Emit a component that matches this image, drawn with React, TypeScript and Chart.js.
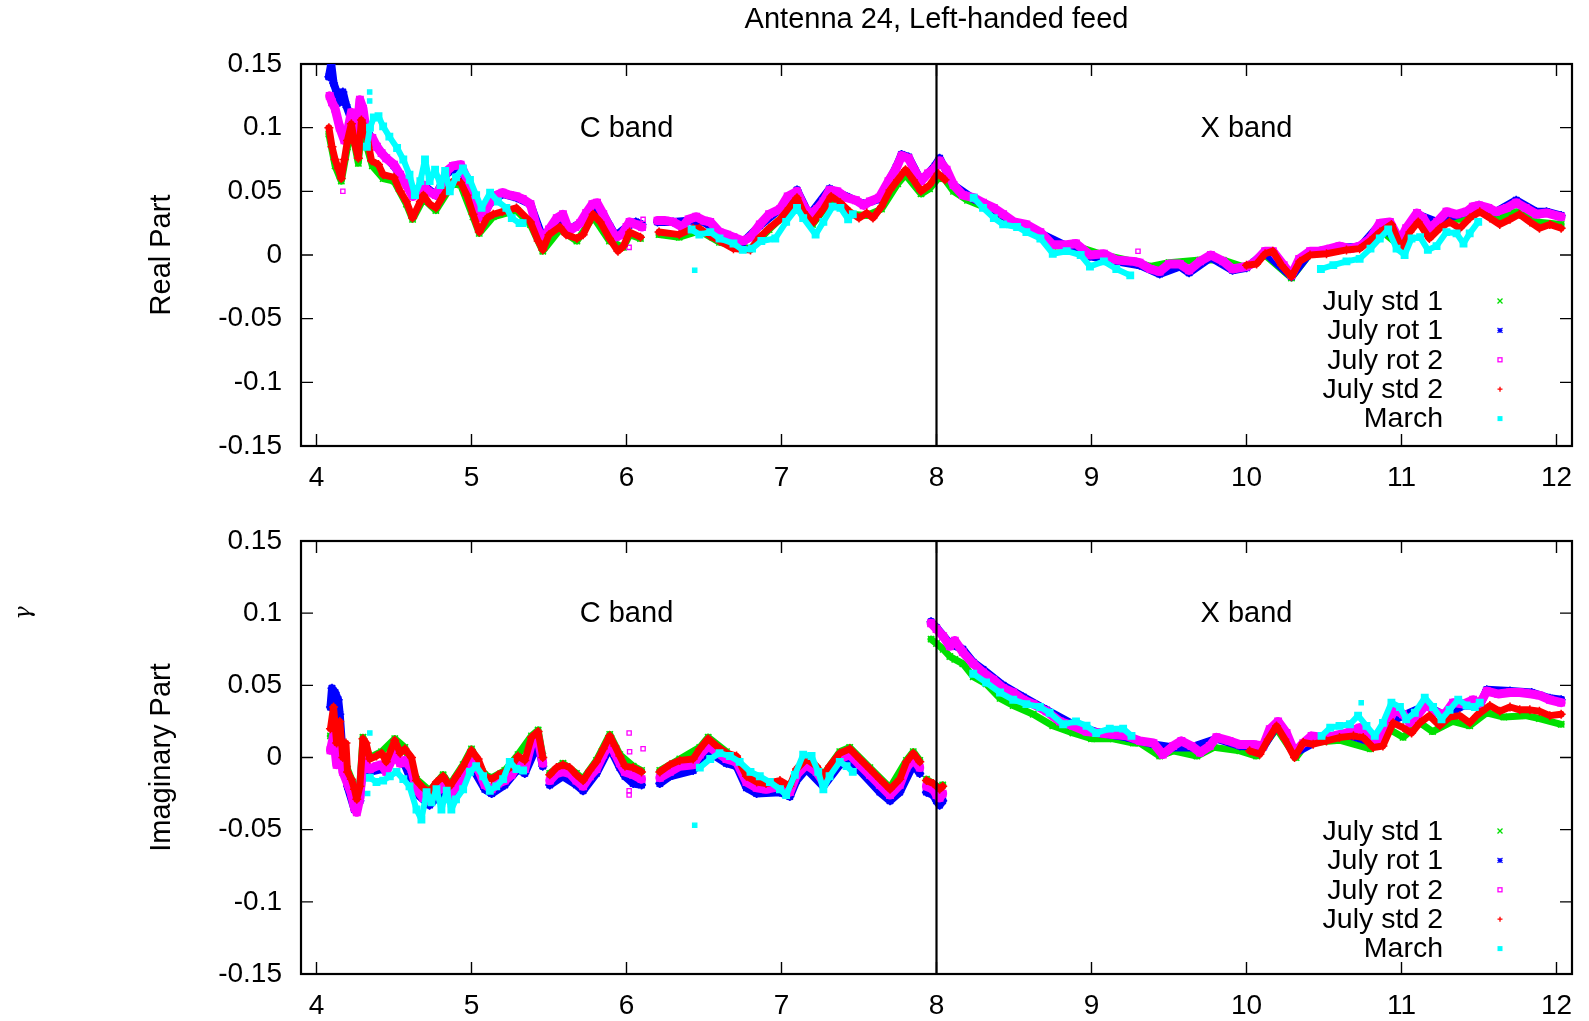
import React, { useEffect, useRef } from 'react';
import { Chart, registerables } from 'chart.js';

Chart.register(...registerables);

type Pt = [number, number | null];

// ---------- axes / labels ----------
const xTickValues = [4, 5, 6, 7, 8, 9, 10, 11, 12];
const xTickLabels = ['4', '5', '6', '7', '8', '9', '10', '11', '12'];
const yTickValues = [-0.15, -0.1, -0.05, 0, 0.05, 0.1, 0.15];
const yTickLabels = ['-0.15', '-0.1', '-0.05', '0', '0.05', '0.1', '0.15'];
const xRange = [3.9, 12.1];
const yRange = [-0.15, 0.15];
const chartTitle = 'Antenna 24, Left-handed feed';
const panelTitles = ['Real Part', 'Imaginary Part'];
const bandLabels = ['C band', 'X band'];
const bandLabelX = [6, 10];
const bandLabelY = 0.1;
const bandEdge = 8;
const seriesNames = ['July std 1', 'July rot 1', 'July rot 2', 'July std 2', 'March'];
const seriesColors = ['#00e000', '#0000ff', '#ff00ff', '#ff0000', '#00ffff'];

// ---------- Real part ----------
const realStd1: Pt[] = [
  [4.08, 0.095], [4.12, 0.07], [4.16, 0.058], [4.2, 0.085], [4.225, 0.1], [4.27, 0.072], [4.29, 0.1],
  [4.36, 0.07], [4.43, 0.06], [4.5, 0.058], [4.58, 0.04], [4.62, 0.028], [4.69, 0.044], [4.77, 0.035],
  [4.88, 0.056], [4.93, 0.055], [5.01, 0.03], [5.05, 0.017], [5.14, 0.03], [5.29, 0.035], [5.38, 0.024],
  [5.46, 0.003], [5.57, 0.02], [5.68, 0.011], [5.785, 0.03], [5.89, 0.011], [5.98, 0.006], [6.02, 0.016],
  [6.09, 0.013], [6.15, null], [6.21, 0.016], [6.34, 0.014], [6.47, 0.019], [6.6, 0.01], [6.8, 0.005],
  [6.92, 0.02], [7.05, 0.035], [7.1, 0.042], [7.2, 0.024], [7.32, 0.043], [7.44, 0.032], [7.55, 0.031],
  [7.645, 0.036], [7.75, 0.056], [7.8, 0.063], [7.9, 0.048], [7.955, 0.052], [8.01, 0.06], [8.05, 0.06],
  [8.11, 0.05], [8.2, 0.043], [8.3, 0.038], [8.43, 0.03], [8.58, 0.022], [8.75, 0.007], [8.9, 0.007],
  [9.08, 0.0], [9.27, -0.005], [9.38, -0.009], [9.5, -0.006], [9.7, -0.004], [9.85, -0.004], [10.0, -0.01],
  [10.12, 0.0], [10.29, -0.018], [10.41, 0.001], [10.54, 0.004], [10.73, 0.006], [10.86, 0.02], [10.99, 0.007],
  [11.1, 0.028], [11.18, 0.016], [11.29, 0.028], [11.42, 0.028], [11.5, 0.035], [11.61, 0.028], [11.74, 0.034],
  [11.87, 0.026], [12.03, 0.024],
];
const realRot1: Pt[] = [
  [4.08, 0.14], [4.095, 0.15], [4.11, 0.135], [4.13, 0.128], [4.15, 0.12], [4.17, 0.128], [4.19, 0.118],
  [4.22, 0.108], [4.26, 0.095], [4.28, 0.118], [4.32, 0.1], [4.36, 0.09], [4.42, 0.08], [4.5, 0.07],
  [4.58, 0.055], [4.62, 0.047], [4.7, 0.054], [4.77, 0.047], [4.84, 0.064], [4.93, 0.07], [5.0, 0.046],
  [5.07, 0.03], [5.12, 0.041], [5.2, 0.048], [5.29, 0.045], [5.38, 0.04], [5.46, 0.013], [5.55, 0.028],
  [5.63, 0.02], [5.7, 0.025], [5.78, 0.039], [5.85, 0.032], [5.93, 0.015], [6.0, 0.022], [6.06, 0.026],
  [6.1, 0.024], [6.15, null], [6.2, 0.026], [6.3, 0.026], [6.4, 0.027], [6.5, 0.026], [6.6, 0.017],
  [6.75, 0.01], [6.86, 0.023], [6.99, 0.036], [7.1, 0.051], [7.18, 0.031], [7.31, 0.052], [7.42, 0.046],
  [7.53, 0.04], [7.63, 0.044], [7.74, 0.069], [7.775, 0.079], [7.82, 0.077], [7.9, 0.058], [7.99, 0.07],
  [8.02, 0.076], [8.11, 0.055], [8.24, 0.044], [8.37, 0.036], [8.5, 0.025], [8.67, 0.017], [8.84, 0.007],
  [8.99, -0.001], [9.16, -0.005], [9.31, -0.008], [9.44, -0.015], [9.57, -0.009], [9.63, -0.014],
  [9.77, -0.002], [9.91, -0.012], [10.0, -0.01], [10.12, 0.002], [10.29, -0.017], [10.41, 0.002],
  [10.6, 0.006], [10.73, 0.006], [10.86, 0.024], [10.99, 0.01], [11.1, 0.032], [11.23, 0.026],
  [11.42, 0.034], [11.5, 0.039], [11.61, 0.034], [11.74, 0.043], [11.87, 0.034], [11.935, 0.034], [12.03, 0.031],
];
const realRot2: Pt[] = [
  [4.085, 0.125], [4.1, 0.12], [4.12, 0.115], [4.15, 0.1], [4.18, 0.09], [4.2, 0.097], [4.225, 0.112],
  [4.245, 0.1], [4.26, 0.094], [4.28, 0.122], [4.3, 0.115], [4.315, 0.102], [4.34, 0.09], [4.36, 0.092],
  [4.39, 0.085], [4.42, 0.08], [4.45, 0.076], [4.5, 0.071], [4.54, 0.063], [4.58, 0.055], [4.62, 0.046],
  [4.65, 0.05], [4.69, 0.055], [4.72, 0.05], [4.77, 0.047], [4.81, 0.055], [4.84, 0.066], [4.88, 0.07],
  [4.93, 0.071], [4.97, 0.06], [5.0, 0.045], [5.03, 0.035], [5.07, 0.029], [5.12, 0.042], [5.16, 0.047],
  [5.2, 0.049], [5.25, 0.047], [5.29, 0.046], [5.33, 0.044], [5.38, 0.04], [5.42, 0.022], [5.46, 0.012],
  [5.5, 0.02], [5.55, 0.029], [5.59, 0.032], [5.63, 0.019], [5.67, 0.022], [5.7, 0.025], [5.74, 0.033],
  [5.78, 0.04], [5.81, 0.041], [5.85, 0.032], [5.89, 0.022], [5.93, 0.014], [5.97, 0.016], [6.0, 0.022],
  [6.02, 0.026], [6.06, 0.024], [6.1, 0.022], [6.15, null], [6.2, 0.027], [6.25, 0.027], [6.3, 0.026],
  [6.36, 0.022], [6.4, 0.028], [6.45, 0.03], [6.5, 0.027], [6.54, 0.026], [6.6, 0.018], [6.65, 0.016],
  [6.69, 0.014], [6.75, 0.011], [6.8, 0.014], [6.86, 0.024], [6.92, 0.032], [6.99, 0.036], [7.04, 0.046],
  [7.1, 0.05], [7.14, 0.039], [7.18, 0.032], [7.23, 0.036], [7.27, 0.042], [7.31, 0.051], [7.36, 0.05],
  [7.42, 0.045], [7.48, 0.043], [7.53, 0.039], [7.57, 0.042], [7.63, 0.045], [7.69, 0.058], [7.74, 0.068],
  [7.775, 0.078], [7.82, 0.076], [7.86, 0.066], [7.9, 0.058], [7.945, 0.064], [7.99, 0.068], [8.02, 0.074],
  [8.065, 0.067], [8.11, 0.055], [8.17, 0.047], [8.24, 0.045], [8.3, 0.041], [8.37, 0.037], [8.43, 0.032],
  [8.5, 0.026], [8.58, 0.024], [8.67, 0.018], [8.75, 0.008], [8.84, 0.008], [8.9, 0.009], [8.99, 0.0],
  [9.08, 0.001], [9.16, -0.004], [9.27, -0.005], [9.31, -0.006], [9.38, -0.011], [9.44, -0.013],
  [9.5, -0.007], [9.57, -0.007], [9.63, -0.012], [9.7, -0.005], [9.77, 0.0], [9.85, -0.005], [9.91, -0.011],
  [10.0, -0.009], [10.05, -0.006], [10.12, 0.003], [10.17, 0.003], [10.24, -0.008], [10.29, -0.016],
  [10.34, -0.003], [10.41, 0.003], [10.47, 0.003], [10.54, 0.005], [10.6, 0.007], [10.67, 0.005],
  [10.73, 0.007], [10.8, 0.013], [10.86, 0.025], [10.925, 0.026], [10.99, 0.011], [11.03, 0.021],
  [11.1, 0.033], [11.14, 0.029], [11.18, 0.021], [11.23, 0.026], [11.29, 0.034], [11.355, 0.032],
  [11.42, 0.034], [11.46, 0.038], [11.5, 0.039], [11.56, 0.037], [11.61, 0.034], [11.68, 0.037],
  [11.74, 0.041], [11.8, 0.037], [11.87, 0.032], [11.935, 0.033], [12.03, 0.03],
];
const realStd2: Pt[] = [
  [4.08, 0.1], [4.1, 0.085], [4.12, 0.075], [4.14, 0.068], [4.16, 0.06], [4.18, 0.075], [4.2, 0.09],
  [4.225, 0.103], [4.245, 0.088], [4.27, 0.076], [4.29, 0.106], [4.32, 0.097], [4.355, 0.074], [4.4, 0.071],
  [4.43, 0.063], [4.5, 0.061], [4.54, 0.05], [4.58, 0.042], [4.62, 0.029], [4.67, 0.042], [4.69, 0.047],
  [4.73, 0.04], [4.77, 0.037], [4.82, 0.047], [4.88, 0.058], [4.93, 0.057], [4.97, 0.047], [5.01, 0.032],
  [5.05, 0.018], [5.1, 0.029], [5.14, 0.032], [5.2, 0.034], [5.29, 0.037], [5.38, 0.026], [5.43, 0.011],
  [5.46, 0.004], [5.5, 0.016], [5.57, 0.022], [5.61, 0.016], [5.68, 0.013], [5.72, 0.016], [5.785, 0.032],
  [5.83, 0.026], [5.89, 0.013], [5.945, 0.003], [5.98, 0.007], [6.02, 0.018], [6.09, 0.014], [6.15, null],
  [6.21, 0.018], [6.34, 0.016], [6.43, 0.021], [6.47, 0.021], [6.54, 0.015], [6.6, 0.011], [6.69, 0.005],
  [6.8, 0.004], [6.86, 0.014], [6.92, 0.021], [6.99, 0.028], [7.05, 0.037], [7.1, 0.045], [7.14, 0.034],
  [7.2, 0.025], [7.27, 0.036], [7.32, 0.046], [7.38, 0.041], [7.44, 0.034], [7.5, 0.029], [7.55, 0.033],
  [7.59, 0.029], [7.645, 0.038], [7.7, 0.051], [7.75, 0.059], [7.8, 0.067], [7.85, 0.059], [7.9, 0.05],
  [7.955, 0.055], [8.01, 0.064], [8.055, 0.059], [8.09, null], [10.0, -0.008], [10.065, -0.007],
  [10.12, 0.001], [10.17, 0.003], [10.226, -0.008], [10.29, -0.017], [10.344, -0.005], [10.41, 0.0],
  [10.516, 0.001], [10.645, 0.004], [10.73, 0.005], [10.796, 0.011], [10.86, 0.018], [10.935, 0.024],
  [11.0, 0.005], [11.054, 0.018], [11.108, 0.026], [11.18, 0.013], [11.247, 0.021], [11.31, 0.026],
  [11.376, 0.021], [11.44, 0.029], [11.505, 0.034], [11.57, 0.029], [11.634, 0.024], [11.7, 0.028],
  [11.76, 0.032], [11.828, 0.026], [11.89, 0.021], [11.957, 0.024], [12.03, 0.021],
];
const realMarch: Pt[] = [
  [4.325, 0.085], [4.345, 0.1], [4.37, 0.108], [4.4, 0.109], [4.43, 0.101], [4.47, 0.093], [4.52, 0.084],
  [4.56, 0.075], [4.6, 0.063], [4.635, 0.047], [4.67, 0.058], [4.7, 0.075], [4.73, 0.058], [4.765, 0.067],
  [4.8, 0.055], [4.83, 0.066], [4.86, 0.05], [4.9, 0.061], [4.945, 0.068], [4.99, 0.059], [5.03, 0.047],
  [5.065, 0.037], [5.12, 0.049], [5.17, 0.042], [5.225, 0.037], [5.26, 0.029], [5.31, 0.025], [5.33, 0.025],
  [5.4, null], [6.42, 0.02], [6.47, 0.016], [6.54, 0.018], [6.6, 0.013], [6.69, 0.009], [6.75, 0.004],
  [6.81, 0.005], [6.87, 0.011], [6.96, 0.013], [7.03, 0.026], [7.1, 0.037], [7.14, 0.029], [7.22, 0.016],
  [7.27, 0.026], [7.33, 0.038], [7.38, 0.037], [7.43, 0.028], [7.46, 0.032], [7.5, null], [8.24, 0.045],
  [8.3, 0.037], [8.37, 0.029], [8.43, 0.024], [8.52, 0.022], [8.58, 0.018], [8.67, 0.013], [8.75, 0.001],
  [8.84, 0.003], [8.93, 0.0], [8.99, -0.009], [9.08, -0.005], [9.16, -0.011], [9.25, -0.016], [9.3, null],
  [10.48, -0.011], [10.56, -0.008], [10.645, -0.005], [10.73, -0.003], [10.8, 0.005], [10.86, 0.013],
  [10.914, 0.02], [10.968, 0.005], [11.02, 0.0], [11.065, 0.013], [11.12, 0.014], [11.17, 0.004],
  [11.226, 0.007], [11.29, 0.018], [11.355, 0.017], [11.4, 0.009], [11.44, 0.017], [11.495, 0.026],
];
const realRot2Extra: Pt[] = [[4.17, 0.05], [6.017, 0.006], [6.107, 0.028], [9.3, 0.003]];
const realMarchExtra: Pt[] = [[4.343, 0.128], [4.343, 0.121], [6.44, -0.012]];

// ---------- Imaginary part ----------
const imagStd1: Pt[] = [
  [4.09, 0.015], [4.13, 0.012], [4.17, 0.002], [4.2, -0.008], [4.245, -0.02], [4.28, -0.018], [4.3, 0.014],
  [4.344, 0.0], [4.42, 0.004], [4.505, 0.013], [4.57, 0.007], [4.645, -0.015], [4.73, -0.023], [4.817, -0.012],
  [4.86, -0.019], [4.946, -0.005], [5.0, 0.006], [5.086, -0.012], [5.13, -0.014], [5.215, -0.009], [5.3, 0.002],
  [5.387, 0.015], [5.43, 0.019], [5.46, 0.001], [5.48, null], [5.505, -0.011], [5.59, -0.004], [5.677, -0.011],
  [5.72, -0.015], [5.806, -0.002], [5.892, 0.016], [5.957, 0.002], [6.043, -0.006], [6.097, -0.009],
  [6.15, null], [6.215, -0.009], [6.344, -0.001], [6.473, 0.007], [6.527, 0.014], [6.645, 0.004],
  [6.774, -0.012], [6.9, -0.017], [7.054, -0.019], [7.16, 0.0], [7.27, -0.012], [7.376, 0.004], [7.44, 0.007],
  [7.57, -0.007], [7.7, -0.021], [7.806, -0.002], [7.85, 0.004], [7.892, -0.002], [7.91, null],
  [7.935, -0.015], [8.02, -0.021], [8.04, -0.019], [8.06, null], [7.965, 0.082], [8.0, 0.079], [8.043, 0.075],
  [8.086, 0.07], [8.118, 0.068], [8.17, 0.065], [8.237, 0.056], [8.32, 0.051], [8.41, 0.041], [8.495, 0.036],
  [8.624, 0.03], [8.75, 0.022], [8.88, 0.017], [9.0, 0.013], [9.14, 0.013], [9.27, 0.01], [9.312, 0.01],
  [9.44, 0.001], [9.527, 0.0046], [9.68, 0.001], [9.79, 0.007], [9.957, 0.0046], [10.065, 0.001],
  [10.194, 0.02], [10.32, 0.0], [10.39, 0.01], [10.6, 0.012], [10.8, 0.006], [10.93, 0.019], [11.01, 0.014],
  [11.12, 0.024], [11.2, 0.018], [11.33, 0.025], [11.44, 0.022], [11.55, 0.031], [11.66, 0.028],
  [11.8, 0.029], [11.89, 0.027], [12.03, 0.023],
];
const imagRot1: Pt[] = [
  [4.09, 0.035], [4.1, 0.048], [4.12, 0.045], [4.14, 0.04], [4.15, 0.03], [4.17, 0.0], [4.2, -0.02],
  [4.245, -0.036], [4.28, -0.03], [4.3, -0.005], [4.344, -0.01], [4.42, -0.008], [4.505, 0.0], [4.57, -0.005],
  [4.645, -0.025], [4.73, -0.033], [4.817, -0.023], [4.86, -0.029], [4.946, -0.015], [5.0, -0.006],
  [5.086, -0.022], [5.13, -0.025], [5.215, -0.019], [5.3, -0.008], [5.344, -0.011], [5.43, 0.01],
  [5.46, -0.006], [5.48, null], [5.505, -0.019], [5.59, -0.013], [5.677, -0.019], [5.72, -0.023],
  [5.806, -0.011], [5.892, 0.007], [5.957, -0.007], [5.99, -0.013], [6.043, -0.018], [6.097, -0.019],
  [6.15, null], [6.215, -0.018], [6.28, -0.013], [6.43, -0.009], [6.527, 0.004], [6.645, -0.004],
  [6.71, -0.006], [6.774, -0.021], [6.84, -0.025], [6.99, -0.024], [7.054, -0.027], [7.097, -0.016],
  [7.16, -0.008], [7.27, -0.02], [7.376, -0.005], [7.44, -0.002], [7.505, -0.009], [7.634, -0.024],
  [7.7, -0.03], [7.763, -0.024], [7.85, -0.005], [7.892, -0.011], [7.91, null], [7.935, -0.024],
  [7.98, -0.026], [8.0, -0.03], [8.02, -0.033], [8.04, -0.03], [8.06, null], [7.965, 0.094], [8.0, 0.09],
  [8.086, 0.079], [8.17, 0.075], [8.237, 0.066], [8.3, 0.061], [8.43, 0.05], [8.56, 0.042], [8.71, 0.033],
  [8.88, 0.023], [9.054, 0.017], [9.226, 0.014], [9.4, 0.009], [9.527, 0.007], [9.645, 0.007],
  [9.806, 0.013], [9.957, 0.008], [10.108, 0.007], [10.204, 0.024], [10.31, 0.003], [10.484, 0.013],
  [10.645, 0.016], [10.796, 0.011], [10.914, 0.024], [11.01, 0.029], [11.16, 0.036], [11.28, 0.029],
  [11.4, 0.036], [11.505, 0.036], [11.55, 0.047], [11.7, 0.046], [11.84, 0.045], [11.957, 0.041], [12.03, 0.04],
];
const imagRot2: Pt[] = [
  [4.09, 0.005], [4.11, 0.015], [4.13, -0.005], [4.15, 0.01], [4.17, -0.01], [4.2, -0.018], [4.225, -0.025],
  [4.245, -0.035], [4.26, -0.038], [4.28, -0.028], [4.3, 0.0], [4.32, -0.005], [4.344, -0.008],
  [4.387, -0.006], [4.42, -0.005], [4.45, -0.01], [4.505, 0.003], [4.54, -0.004], [4.57, -0.002],
  [4.613, -0.008], [4.645, -0.022], [4.688, -0.028], [4.73, -0.03], [4.774, -0.024], [4.817, -0.02],
  [4.86, -0.026], [4.903, -0.02], [4.946, -0.012], [5.0, -0.003], [5.043, -0.008], [5.086, -0.019],
  [5.13, -0.022], [5.172, -0.018], [5.215, -0.016], [5.258, -0.012], [5.3, -0.005], [5.344, -0.008],
  [5.387, 0.01], [5.43, 0.013], [5.46, -0.004], [5.48, null], [5.505, -0.016], [5.548, -0.011],
  [5.59, -0.01], [5.634, -0.011], [5.677, -0.016], [5.72, -0.02], [5.763, -0.013], [5.806, -0.008],
  [5.85, 0.002], [5.892, 0.01], [5.925, 0.003], [5.957, -0.004], [5.99, -0.01], [6.043, -0.012],
  [6.097, -0.015], [6.15, null], [6.215, -0.014], [6.28, -0.01], [6.344, -0.006], [6.43, -0.005],
  [6.473, 0.002], [6.527, 0.008], [6.58, 0.004], [6.645, -0.001], [6.71, -0.003], [6.774, -0.017],
  [6.84, -0.021], [6.9, -0.022], [6.99, -0.02], [7.054, -0.024], [7.097, -0.012], [7.16, -0.005],
  [7.226, -0.01], [7.27, -0.017], [7.31, -0.01], [7.376, -0.001], [7.44, 0.002], [7.505, -0.005],
  [7.57, -0.012], [7.634, -0.019], [7.7, -0.026], [7.763, -0.019], [7.806, -0.007], [7.85, -0.001],
  [7.892, -0.007], [7.91, null], [7.935, -0.02], [7.98, -0.022], [8.0, -0.026], [8.02, -0.028],
  [8.04, -0.025], [8.06, null], [7.965, 0.093], [8.0, 0.089], [8.043, 0.084], [8.086, 0.077], [8.118, 0.081],
  [8.17, 0.073], [8.237, 0.065], [8.3, 0.059], [8.366, 0.054], [8.43, 0.048], [8.495, 0.045], [8.56, 0.04],
  [8.624, 0.037], [8.71, 0.032], [8.796, 0.025], [8.88, 0.022], [8.968, 0.018], [9.054, 0.017], [9.14, 0.016],
  [9.226, 0.015], [9.312, 0.0115], [9.4, 0.01], [9.46, 0.002], [9.527, 0.008], [9.58, 0.0115], [9.645, 0.008],
  [9.7, 0.0035], [9.763, 0.008], [9.806, 0.014], [9.89, 0.0115], [9.957, 0.009], [10.043, 0.009],
  [10.108, 0.008], [10.15, 0.0196], [10.204, 0.025], [10.258, 0.017], [10.31, 0.0035], [10.366, 0.01],
  [10.42, 0.015], [10.484, 0.014], [10.56, 0.015], [10.645, 0.017], [10.73, 0.0207], [10.796, 0.0127],
  [10.86, 0.0115], [10.914, 0.025], [10.957, 0.033], [11.01, 0.03], [11.054, 0.024], [11.108, 0.03],
  [11.16, 0.037], [11.226, 0.031], [11.28, 0.03], [11.333, 0.038], [11.4, 0.037], [11.462, 0.04],
  [11.505, 0.037], [11.55, 0.046], [11.624, 0.044], [11.7, 0.045], [11.763, 0.045], [11.84, 0.044],
  [11.89, 0.043], [11.957, 0.04], [12.03, 0.038],
];
const imagStd2: Pt[] = [
  [4.09, 0.02], [4.11, 0.035], [4.13, 0.01], [4.15, 0.025], [4.17, 0.0], [4.19, 0.01], [4.2, -0.01],
  [4.225, -0.015], [4.245, -0.022], [4.26, -0.029], [4.28, -0.02], [4.3, 0.013], [4.32, 0.01],
  [4.344, -0.001], [4.387, 0.001], [4.42, 0.003], [4.45, -0.003], [4.505, 0.012], [4.54, 0.003],
  [4.57, 0.006], [4.613, 0.0], [4.645, -0.016], [4.688, -0.021], [4.73, -0.024], [4.774, -0.017],
  [4.817, -0.013], [4.86, -0.02], [4.903, -0.013], [4.946, -0.006], [5.0, 0.005], [5.043, -0.001],
  [5.086, -0.013], [5.13, -0.015], [5.172, -0.012], [5.215, -0.01], [5.258, -0.006], [5.3, 0.001],
  [5.344, -0.002], [5.387, 0.014], [5.43, 0.018], [5.46, 0.0], [5.48, null], [5.505, -0.012],
  [5.548, -0.007], [5.59, -0.005], [5.634, -0.007], [5.677, -0.012], [5.72, -0.016], [5.763, -0.009],
  [5.806, -0.003], [5.85, 0.006], [5.892, 0.015], [5.925, 0.008], [5.957, 0.001], [5.99, -0.006],
  [6.043, -0.007], [6.097, -0.01], [6.15, null], [6.215, -0.01], [6.28, -0.005], [6.344, -0.002],
  [6.43, -0.001], [6.473, 0.006], [6.527, 0.013], [6.58, 0.008], [6.645, 0.003], [6.71, 0.001],
  [6.774, -0.013], [6.84, -0.017], [6.9, -0.018], [6.99, -0.016], [7.054, -0.02], [7.097, -0.008],
  [7.16, -0.001], [7.226, -0.006], [7.27, -0.013], [7.31, -0.006], [7.376, 0.003], [7.44, 0.006],
  [7.505, -0.001], [7.57, -0.008], [7.634, -0.015], [7.7, -0.022], [7.763, -0.015], [7.806, -0.003],
  [7.85, 0.003], [7.892, -0.003], [7.91, null], [7.935, -0.016], [7.98, -0.018], [8.02, -0.022],
  [8.04, -0.02], [8.06, null], [10.02, 0.0046], [10.086, 0.0023], [10.14, 0.0127], [10.194, 0.0219],
  [10.247, 0.0127], [10.31, 0.0], [10.366, 0.0104], [10.43, 0.0092], [10.516, 0.0115], [10.6, 0.0138],
  [10.69, 0.015], [10.753, 0.0138], [10.817, 0.0069], [10.88, 0.008], [10.946, 0.024], [11.01, 0.0207],
  [11.065, 0.017], [11.118, 0.024], [11.18, 0.029], [11.247, 0.022], [11.31, 0.028], [11.376, 0.029],
  [11.44, 0.024], [11.484, 0.029], [11.57, 0.036], [11.634, 0.032], [11.7, 0.035], [11.763, 0.033],
  [11.828, 0.033], [11.89, 0.032], [11.957, 0.029], [12.03, 0.03],
];
const imagMarch: Pt[] = [
  [4.344, -0.014], [4.387, -0.017], [4.43, -0.016], [4.473, -0.013], [4.516, -0.01], [4.56, -0.015],
  [4.6, -0.02], [4.645, -0.036], [4.677, -0.043], [4.71, -0.024], [4.742, -0.031], [4.774, -0.022],
  [4.806, -0.036], [4.84, -0.023], [4.87, -0.036], [4.9, -0.029], [4.946, -0.022], [4.99, -0.01],
  [5.03, -0.006], [5.075, -0.013], [5.118, -0.023], [5.16, -0.02], [5.204, -0.015], [5.247, -0.003],
  [5.29, -0.008], [5.333, -0.009], [5.36, null], [6.473, -0.007], [6.54, -0.001], [6.6, 0.003],
  [6.667, 0.001], [6.73, -0.003], [6.8, -0.01], [6.86, -0.013], [6.925, -0.017], [6.99, -0.022],
  [7.03, -0.026], [7.086, -0.012], [7.14, 0.002], [7.194, 0.001], [7.237, -0.01], [7.27, -0.022],
  [7.31, -0.013], [7.376, -0.003], [7.42, -0.006], [7.46, -0.01], [7.5, null], [8.237, 0.058],
  [8.32, 0.052], [8.41, 0.045], [8.495, 0.04], [8.58, 0.037], [8.667, 0.035], [8.73, 0.031], [8.817, 0.023],
  [8.9, 0.025], [8.968, 0.022], [9.03, 0.017], [9.118, 0.02], [9.204, 0.02], [9.258, 0.015], [9.3, null],
  [10.484, 0.015], [10.54, 0.0207], [10.6, 0.0219], [10.667, 0.023], [10.72, 0.029], [10.774, 0.0219],
  [10.828, 0.015], [10.88, 0.024], [10.935, 0.038], [10.99, 0.035], [11.03, 0.0265], [11.086, 0.031],
  [11.15, 0.0415], [11.204, 0.035], [11.258, 0.0265], [11.31, 0.033], [11.366, 0.04], [11.42, 0.036],
  [11.473, 0.035], [11.505, 0.038],
];
const imagRot2Extra: Pt[] = [[6.017, 0.017], [6.02, 0.004], [6.107, 0.006], [6.017, -0.023], [6.017, -0.026]];
const imagMarchExtra: Pt[] = [[4.344, 0.017], [4.33, -0.025], [6.44, -0.047], [10.74, 0.038]];

// ---------- styling ----------
const FONT = "'Liberation Sans', Arial, Helvetica, sans-serif";
const markerStyles = ['crossRot', 'star', 'rect', 'cross', 'rect'];
const markerFill = [false, false, false, false, true];
const bandWidths = [7, 8, 9, 7, 6];
const drawOrder = [5, 4, 3, 2, 1];

interface PanelSpec {
  yTitle: string;
  series: Pt[][];
  extras: [number, Pt[]][];
  canvasHeight: number;
  padTop: number;
  xAxisHeight: number;
  legendTop: number;
  showTitle: boolean;
  glyph: boolean;
}

const panels: PanelSpec[] = [
  {
    yTitle: panelTitles[0],
    series: [realStd1, realRot1, realRot2, realStd2, realMarch],
    extras: [[2, realRot2Extra], [4, realMarchExtra]],
    canvasHeight: 500, padTop: 64, xAxisHeight: 54, legendTop: 301, showTitle: true, glyph: false,
  },
  {
    yTitle: panelTitles[1],
    series: [imagStd1, imagRot1, imagRot2, imagStd2, imagMarch],
    extras: [[2, imagRot2Extra], [4, imagMarchExtra]],
    canvasHeight: 521, padTop: 41, xAxisHeight: 47, legendTop: 331, showTitle: false, glyph: true,
  },
];

const toXY = (a: Pt[]) => a.map(([x, y]) => ({ x, y }));

function drawMarker(ctx: CanvasRenderingContext2D, idx: number, x: number, y: number, r: number) {
  const c = seriesColors[idx];
  ctx.save();
  ctx.strokeStyle = c;
  ctx.fillStyle = c;
  ctx.lineWidth = 1.3;
  const style = markerStyles[idx];
  ctx.beginPath();
  if (style === 'crossRot' || style === 'star') {
    ctx.moveTo(x - r, y - r); ctx.lineTo(x + r, y + r);
    ctx.moveTo(x - r, y + r); ctx.lineTo(x + r, y - r);
  }
  if (style === 'cross' || style === 'star') {
    ctx.moveTo(x - r, y); ctx.lineTo(x + r, y);
    ctx.moveTo(x, y - r); ctx.lineTo(x, y + r);
  }
  ctx.stroke();
  if (style === 'rect') {
    if (markerFill[idx]) ctx.fillRect(x - r, y - r, 2 * r, 2 * r);
    else ctx.strokeRect(x - r + 0.5, y - r + 0.5, 2 * r - 1, 2 * r - 1);
  }
  ctx.restore();
}

const framePlugin = {
  id: 'gnuframe',
  beforeDatasetsDraw(chart: any) {
    const { ctx, chartArea } = chart;
    const { left, right, top, bottom } = chartArea;
    const xs = chart.scales.x;
    const ys = chart.scales.y;
    ctx.save();
    ctx.strokeStyle = '#000';
    ctx.lineWidth = 1.4;
    ctx.beginPath();
    xTickValues.forEach((v) => {
      const p = xs.getPixelForValue(v);
      ctx.moveTo(p, bottom); ctx.lineTo(p, bottom - 12);
      ctx.moveTo(p, top); ctx.lineTo(p, top + 12);
    });
    yTickValues.forEach((v) => {
      const p = ys.getPixelForValue(v);
      ctx.moveTo(left, p); ctx.lineTo(left + 12, p);
      ctx.moveTo(right, p); ctx.lineTo(right - 12, p);
    });
    ctx.stroke();
    ctx.lineWidth = 2.2;
    ctx.strokeRect(left, top, right - left, bottom - top);
    ctx.restore();
  },
  afterDraw(chart: any, _args: any, opts: any) {
    const { ctx, chartArea } = chart;
    const { left, right, top, bottom } = chartArea;
    const xs = chart.scales.x;
    const ys = chart.scales.y;
    ctx.save();
    ctx.fillStyle = '#000';
    ctx.textBaseline = 'middle';
    ctx.font = `29px ${FONT}`;
    ctx.textAlign = 'center';
    bandLabels.forEach((t, i) => {
      ctx.fillText(t, xs.getPixelForValue(bandLabelX[i]), ys.getPixelForValue(bandLabelY) + 1);
    });
    if (opts.showTitle) {
      ctx.fillText(chartTitle, (left + right) / 2, 20);
    }
    ctx.save();
    ctx.translate(162, (top + bottom) / 2);
    ctx.rotate(-Math.PI / 2);
    ctx.fillText(opts.yTitle, 0, 0);
    ctx.restore();
    if (opts.glyph) {
      ctx.save();
      ctx.translate(24, 113);
      ctx.rotate(-Math.PI / 2);
      ctx.font = `italic 22px 'DejaVu Serif', serif`;
      ctx.fillText('γ', 0, 0);
      ctx.restore();
    }
    ctx.font = `28.5px ${FONT}`;
    ctx.textAlign = 'right';
    seriesNames.forEach((name, i) => {
      const y = opts.legendTop + i * 29.4;
      ctx.fillText(name, 1443, y + 1);
      drawMarker(ctx, i, 1500, y, 2.5);
    });
    ctx.restore();
  },
};

function buildConfig(p: PanelSpec): any {
  const datasets: any[] = [];
  datasets.push({
    label: 'edge',
    data: [{ x: bandEdge, y: yRange[0] }, { x: bandEdge, y: yRange[1] }],
    borderColor: '#000',
    borderWidth: 2.2,
    pointRadius: 0,
    order: 0,
  });
  p.series.forEach((s, i) => {
    datasets.push({
      label: seriesNames[i],
      data: toXY(s),
      borderColor: seriesColors[i],
      backgroundColor: seriesColors[i],
      borderWidth: bandWidths[i],
      borderJoinStyle: 'round',
      borderCapStyle: 'round',
      pointStyle: markerStyles[i],
      pointRadius: 4.5,
      pointBorderWidth: 1.5,
      pointBorderColor: seriesColors[i],
      pointBackgroundColor: seriesColors[i],
      tension: 0,
      spanGaps: false,
      fill: false,
      order: drawOrder[i],
    });
  });
  p.extras.forEach(([i, s]) => {
    datasets.push({
      label: seriesNames[i] + ' extra',
      data: toXY(s),
      showLine: false,
      borderColor: seriesColors[i],
      backgroundColor: markerFill[i] ? seriesColors[i] : 'rgba(0,0,0,0)',
      pointStyle: 'rect',
      pointRadius: 3,
      pointBorderWidth: 1.3,
      order: drawOrder[i],
    });
  });
  const tickFont = { family: FONT, size: 28 };
  return {
    type: 'line',
    data: { datasets },
    plugins: [framePlugin],
    options: {
      animation: false,
      responsive: false,
      devicePixelRatio: 1,
      events: [],
      layout: { padding: { top: p.padTop, left: 0, right: 17, bottom: 0 } },
      plugins: {
        legend: { display: false },
        tooltip: { enabled: false },
        title: { display: false },
        gnuframe: { yTitle: p.yTitle, legendTop: p.legendTop, showTitle: p.showTitle, glyph: p.glyph },
      },
      scales: {
        x: {
          type: 'linear',
          min: xRange[0],
          max: xRange[1],
          grid: { display: false, drawTicks: false },
          border: { display: false },
          afterBuildTicks: (s: any) => { s.ticks = xTickValues.map((v) => ({ value: v })); },
          afterFit: (s: any) => { s.height = p.xAxisHeight; },
          ticks: {
            autoSkip: false,
            maxRotation: 0,
            color: '#000',
            font: tickFont,
            padding: 15.5,
            callback: (_v: any, i: number) => xTickLabels[i],
          },
        },
        y: {
          type: 'linear',
          min: yRange[0],
          max: yRange[1],
          grid: { display: false, drawTicks: false },
          border: { display: false },
          afterBuildTicks: (s: any) => { s.ticks = yTickValues.map((v) => ({ value: v })); },
          afterFit: (s: any) => { s.width = 301; },
          ticks: {
            autoSkip: false,
            color: '#000',
            font: tickFont,
            padding: 19,
            callback: (_v: any, i: number) => yTickLabels[i],
          },
        },
      },
    },
  };
}

export default function App() {
  const topRef = useRef<HTMLCanvasElement>(null);
  const botRef = useRef<HTMLCanvasElement>(null);
  useEffect(() => {
    const c1 = new Chart(topRef.current as HTMLCanvasElement, buildConfig(panels[0]));
    const c2 = new Chart(botRef.current as HTMLCanvasElement, buildConfig(panels[1]));
    return () => {
      c1.destroy();
      c2.destroy();
    };
  }, []);
  return (
    <div style={{ position: 'absolute', left: 0, top: 0, width: 1589, height: 1021, background: '#fff' }}>
      <canvas
        ref={topRef}
        width={1589}
        height={panels[0].canvasHeight}
        style={{ position: 'absolute', left: 0, top: 0, width: 1589, height: panels[0].canvasHeight }}
      />
      <canvas
        ref={botRef}
        width={1589}
        height={panels[1].canvasHeight}
        style={{ position: 'absolute', left: 0, top: panels[0].canvasHeight, width: 1589, height: panels[1].canvasHeight }}
      />
    </div>
  );
}
